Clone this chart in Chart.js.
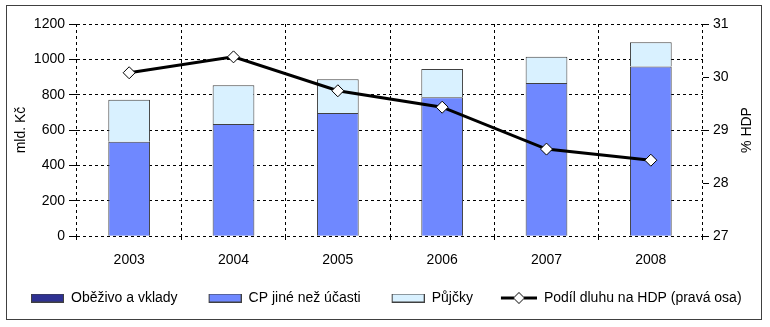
<!DOCTYPE html>
<html>
<head>
<meta charset="utf-8">
<script src="https://cdn.jsdelivr.net/npm/chart.js@4"></script>
<style>
  body { margin: 0; background: #fff; }
  #wrap { width: 770px; height: 327px; }
</style>
</head>
<body>
<div id="wrap"><canvas id="debtChart" width="770" height="327"></canvas></div>
<script>
const years = ['2003', '2004', '2005', '2006', '2007', '2008'];
const obezivo = [2, 2, 2, 2, 2, 2];
const cpJine = [532, 632, 694, 783, 864, 958];
const pujcky = [237, 219, 191, 160, 149, 136];
const podilHdp = [30.08, 30.38, 29.74, 29.43, 28.64, 28.43];

const fontFamily = '"Liberation Sans", Arial, sans-serif';
const tickFont = { family: fontFamily, size: 14 };
const iconWidth = 48;

// small canvases used as legend symbols (transparent margin on the left)
function boxIcon(fill) {
    const c = document.createElement('canvas');
    c.width = iconWidth; c.height = 9;
    const g = c.getContext('2d');
    g.fillStyle = fill;
    g.fillRect(iconWidth - 33, 0, 33, 9);
    g.strokeStyle = '#404040';
    g.lineWidth = 1;
    g.strokeRect(iconWidth - 32.5, 0.5, 32, 8);
    return c;
}

function lineIcon() {
    const c = document.createElement('canvas');
    c.width = iconWidth; c.height = 13;
    const g = c.getContext('2d');
    const x0 = iconWidth - 36;
    g.strokeStyle = '#000';
    g.lineWidth = 3;
    g.beginPath(); g.moveTo(x0, 6.5); g.lineTo(iconWidth, 6.5); g.stroke();
    const cx = x0 + 18;
    g.beginPath();
    g.moveTo(cx, 1); g.lineTo(cx + 5.5, 6.5); g.lineTo(cx, 12); g.lineTo(cx - 5.5, 6.5); g.closePath();
    g.fillStyle = '#fff'; g.fill();
    g.lineWidth = 1; g.stroke();
    return c;
}

const legendIcons = [boxIcon('#2e3192'), boxIcon('#6f88ff'), boxIcon('#d9f1ff'), lineIcon()];

const framePlugin = {
    id: 'frame',
    beforeUpdate(chart) {
        // keep the legend on one row and fix its band height
        const legend = chart.legend;
        if (legend && !legend._fixedFit) {
            const origFit = legend.fit;
            legend.fit = function () {
                const mw = this.maxWidth;
                this.maxWidth = 10000;
                origFit.call(this);
                this.maxWidth = mw;
                this.width = mw;
                this.height = 52;
            };
            legend._fixedFit = true;
        }
    },
    afterLayout(chart) {
        if (chart.legend) chart.legend.right = 10000;
    },
    afterDraw(chart) {
        const ctx = chart.ctx;
        ctx.save();
        ctx.strokeStyle = '#404040';
        ctx.lineWidth = 1;
        ctx.strokeRect(6.5, 5.5, 755, 314);
        // right axis title, reading bottom to top
        const area = chart.chartArea;
        ctx.translate(747, (area.top + area.bottom) / 2);
        ctx.rotate(-Math.PI / 2);
        ctx.fillStyle = '#000';
        ctx.font = '14px ' + fontFamily;
        ctx.textAlign = 'center';
        ctx.textBaseline = 'middle';
        ctx.fillText('% HDP', 0, 0);
        ctx.restore();
    }
};

let ctx = document.getElementById('debtChart').getContext('2d');

window.debtChart = new Chart(ctx, {
    data: {
        labels: years,
        datasets: [{
            type: 'line',
            label: 'Podíl dluhu na HDP (pravá osa)',
            data: podilHdp,
            yAxisID: 'y1',
            borderColor: '#000',
            borderWidth: 3,
            pointStyle: 'rectRot',
            pointRadius: 6,
            pointBackgroundColor: '#fff',
            pointBorderColor: '#000',
            pointBorderWidth: 1,
            tension: 0,
            order: 0
        }, {
            type: 'bar',
            label: 'Oběživo a vklady',
            data: obezivo,
            backgroundColor: '#2e3192',
            borderColor: '#404040',
            borderWidth: 1,
            order: 1
        }, {
            type: 'bar',
            label: 'CP jiné než účasti',
            data: cpJine,
            backgroundColor: '#6f88ff',
            borderColor: '#404040',
            borderWidth: 1,
            order: 1
        }, {
            type: 'bar',
            label: 'Půjčky',
            data: pujcky,
            backgroundColor: '#d9f1ff',
            borderColor: '#404040',
            borderWidth: 1,
            order: 1
        }]
    },
    options: {
        responsive: false,
        animation: false,
        layout: { padding: { top: 24, left: 0, right: 0, bottom: 0 } },
        datasets: { bar: { barPercentage: 0.8, categoryPercentage: 0.5 } },
        scales: {
            x: {
                stacked: true,
                offset: true,
                grid: { display: true, offset: true, color: '#000', drawTicks: true, tickLength: 4, tickColor: '#000' },
                border: { display: false, dash: [3, 3] },
                ticks: { color: '#000', font: tickFont, padding: 12 },
                afterFit(scale) { scale.height = 39; }
            },
            y: {
                stacked: true,
                position: 'left',
                min: 0,
                max: 1200,
                ticks: { stepSize: 200, color: '#000', font: tickFont, padding: 4, callback: v => String(v) },
                grid: { color: '#000', tickLength: 8, tickColor: '#000' },
                border: { display: false, dash: [3, 3] },
                title: { display: true, text: 'mld. Kč', color: '#000', font: tickFont, padding: { top: 13, bottom: 0 } },
                afterFit(scale) { scale.width = 77; }
            },
            y1: {
                position: 'right',
                min: 27,
                max: 31,
                ticks: { stepSize: 1, color: '#000', font: tickFont, padding: 4 },
                grid: { drawOnChartArea: false, tickLength: 6, tickColor: '#000' },
                border: { display: false },
                afterFit(scale) { scale.width = 67; }
            }
        },
        plugins: {
            tooltip: { enabled: false },
            legend: {
                position: 'bottom',
                align: 'start',
                labels: {
                    color: '#000',
                    font: { family: fontFamily, size: 14 },
                    usePointStyle: true,
                    pointStyleWidth: iconWidth,
                    padding: 16,
                    sort: (a, b) => ((a.datasetIndex + 3) % 4) - ((b.datasetIndex + 3) % 4),
                    generateLabels(chart) {
                        const items = Chart.defaults.plugins.legend.labels.generateLabels(chart);
                        items.forEach(item => {
                            item.pointStyle = legendIcons[(item.datasetIndex + 3) % 4];
                        });
                        return items;
                    }
                }
            }
        }
    },
    plugins: [framePlugin]
});
</script>
</body>
</html>
